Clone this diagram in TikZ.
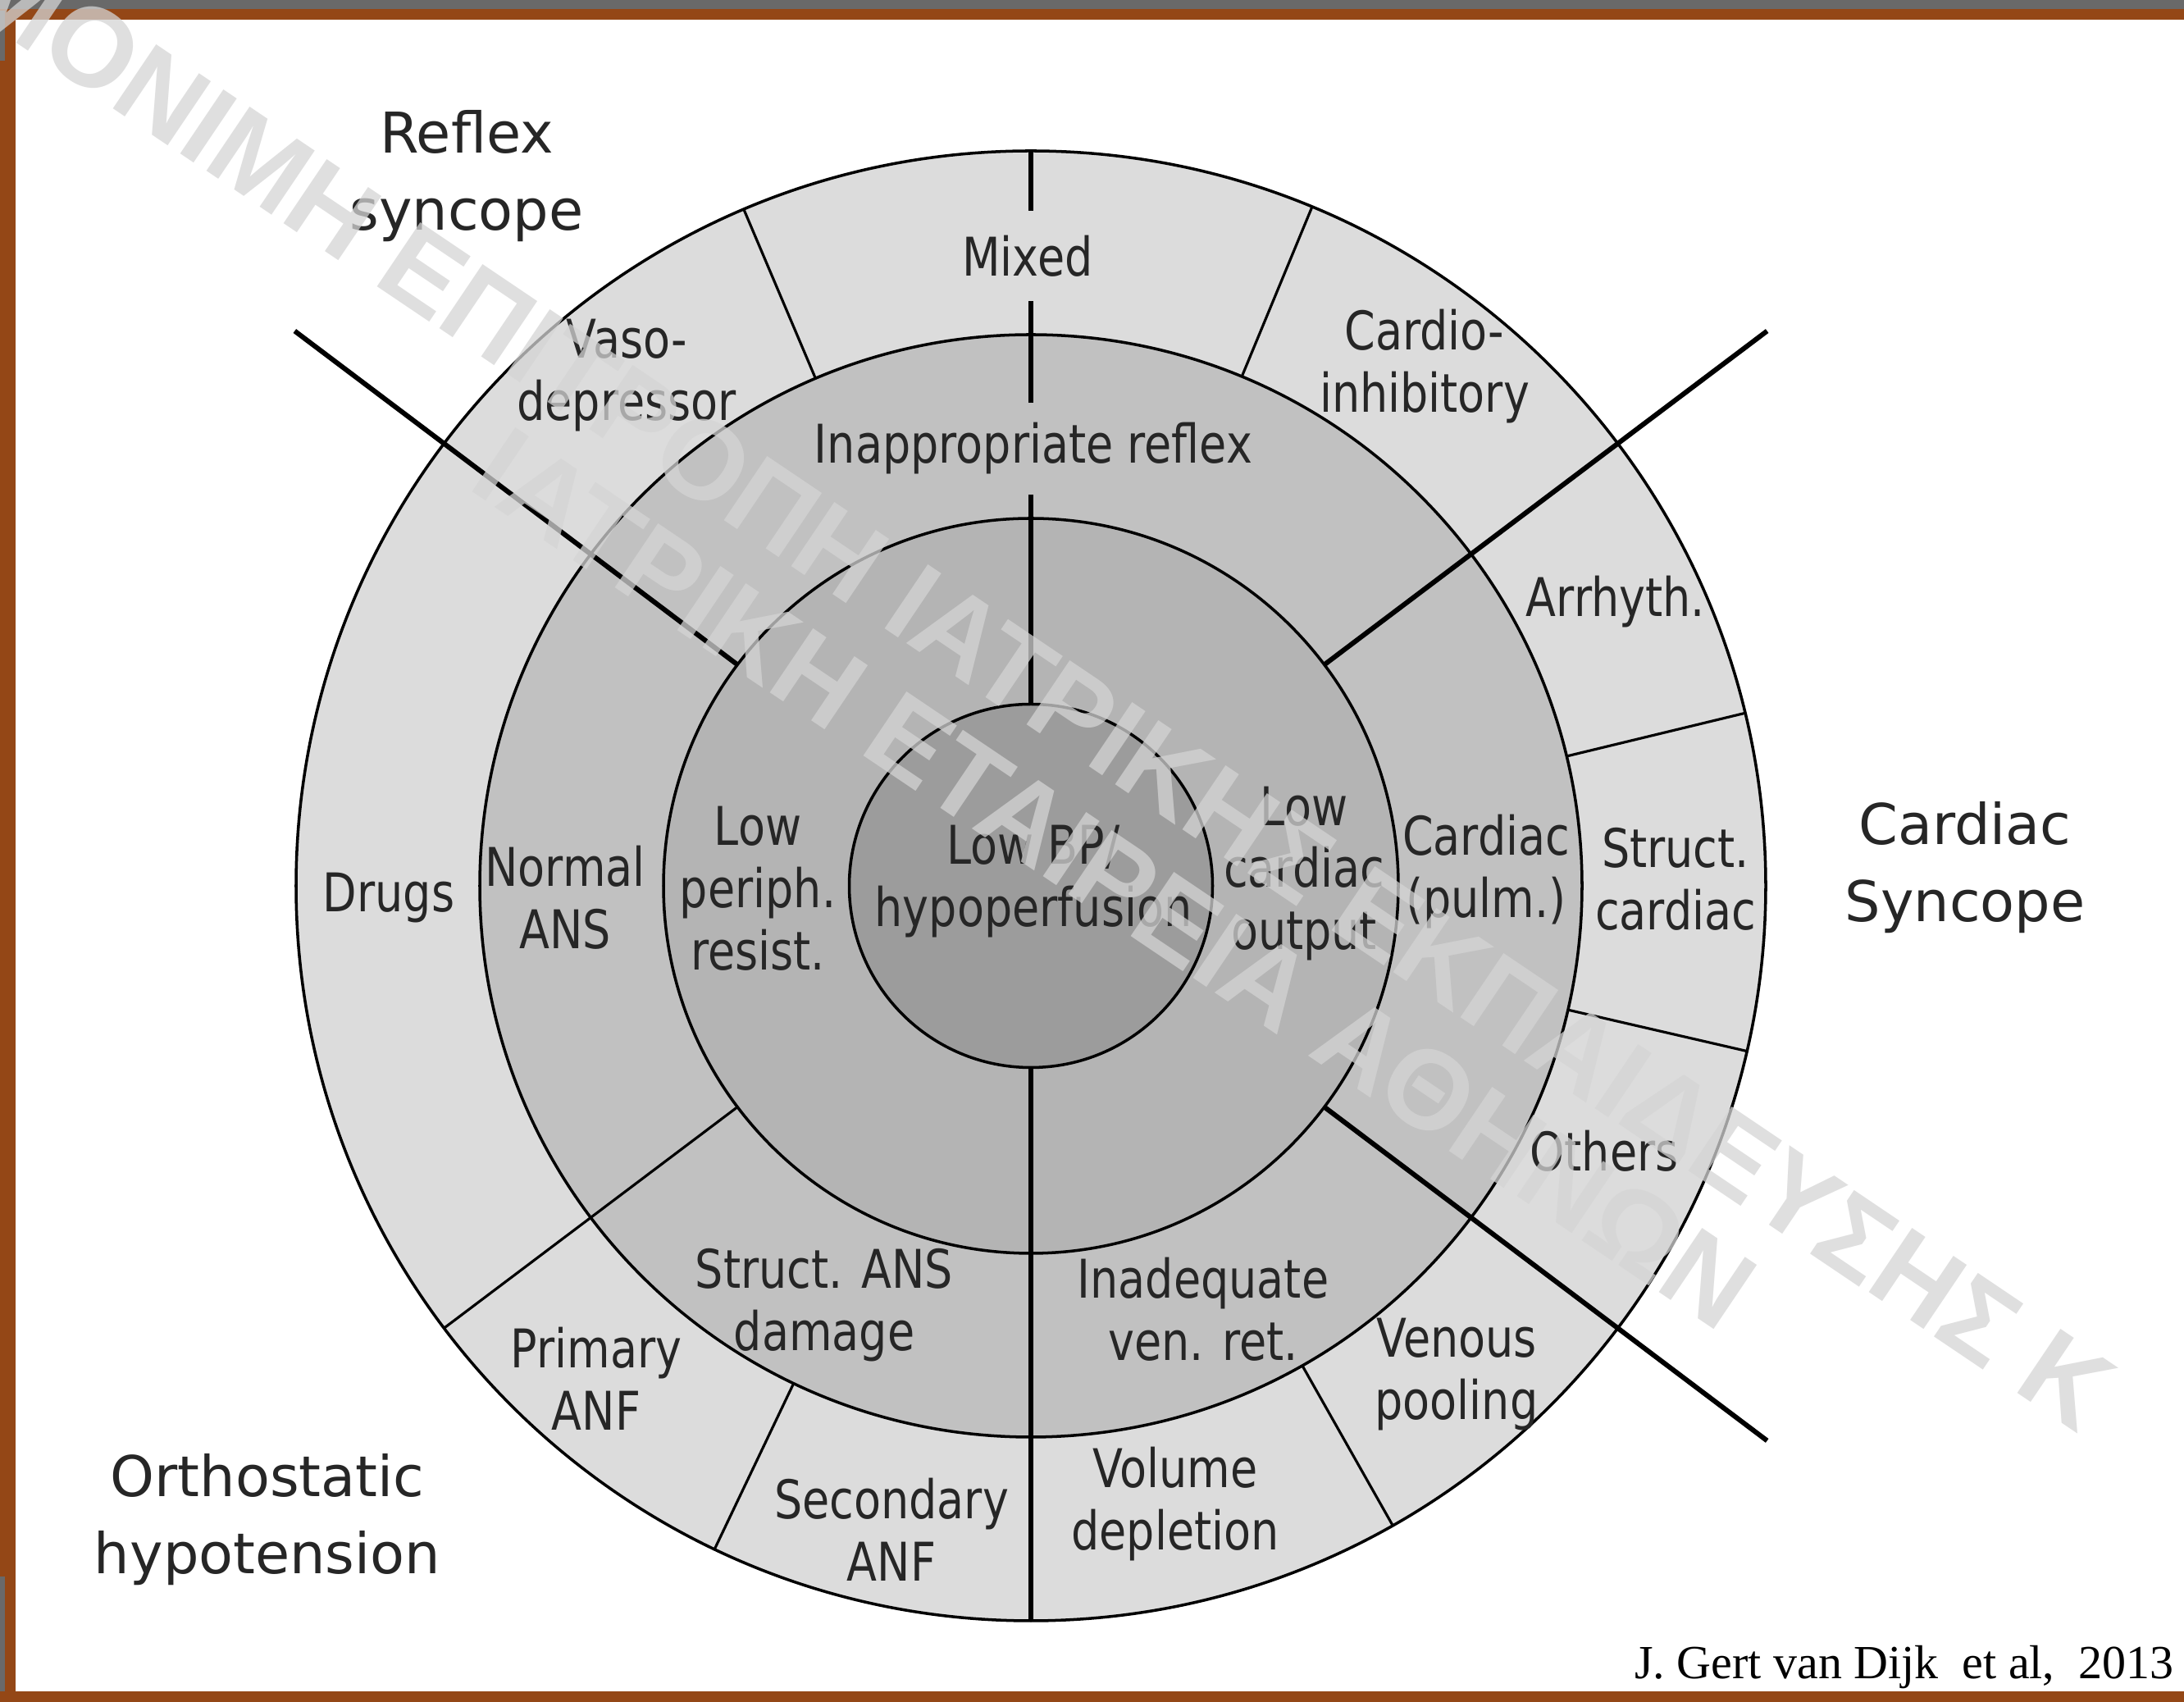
\documentclass[tikz,border=0pt]{standalone}
\usepackage{fontspec}
\setmainfont{DejaVu Sans}
\newfontfamily\narrowfont{DejaVu Sans}[FakeStretch=0.83]
\newfontfamily\citefont{Liberation Serif}
\newfontfamily\markfont{Liberation Sans}
\definecolor{frameband}{RGB}{148,71,22}
\definecolor{darkband}{RGB}{105,105,105}
\definecolor{ringA}{RGB}{220,220,220}
\definecolor{ringB}{RGB}{193,193,193}
\definecolor{ringC}{RGB}{180,180,180}
\definecolor{ringD}{RGB}{156,156,156}
\definecolor{markgray}{RGB}{212,212,212}
\begin{document}
\begin{tikzpicture}
  [every node/.style={inner sep=0pt,align=center,text=black!85},
   lbl/.style={font=\narrowfont\fontsize{18.5}{21.6}\selectfont},
   group/.style={font=\fontsize{19.5}{26.7}\selectfont},
   sep/.style={line width=0.9pt},
   axis/.style={line width=1.7pt},
   wmark/.style={font=\markfont\bfseries\fontsize{39}{39}\selectfont,
     text=markgray,text opacity=0.75,anchor=west,rotate=-34}]
  \useasboundingbox (0,0) rectangle (26.63,20.75);

  % frame of the slide
  \fill[darkband] (0,20.64) rectangle (26.63,20.75);
  \fill[frameband] (0,20.51) rectangle (26.63,20.64);
  \fill[frameband] (0,0) rectangle (0.19,20.64);
  \fill[frameband] (0,0) rectangle (26.63,0.13);
  \fill[darkband] (0,20.01) rectangle (0.06,20.62);
  \fill[darkband] (0,0.13) rectangle (0.06,1.53);

  \begin{scope}[shift={(12.57,9.95)}]
    % rings
    \filldraw[fill=ringA,line width=1pt] (0,0) circle (8.96);
    \filldraw[fill=ringB,line width=1pt] (0,0) circle (6.72);
    \filldraw[fill=ringC,line width=1pt] (0,0) circle (4.48);
    \filldraw[fill=ringD,line width=1pt] (0,0) circle (2.215);

    % sectors
    \foreach \a in {113,67.5,13.6,-13,-60.5,244.5}
      \draw[sep] (\a:6.72) -- (\a:8.96);
    \draw[sep] (217:4.48) -- (217:8.96);
    \foreach \a in {37,143,-37}
      \draw[axis] (\a:4.48) -- (\a:11.24);
    \draw[axis] (90:2.215) -- (90:8.96);
    \draw[axis] (-90:2.215) -- (-90:8.96);

    % centre and inner ring
    \node[lbl] (lowbp) at (0.03,0.05) {Low BP/\\hypoperfusion};
    \node[lbl] (lowco) at (3.33,0.15) {Low\\cardiac\\output};
    \node[lbl] (lowpr) at (-3.33,-0.03) {Low\\periph.\\resist.};

    % middle ring
    \node[lbl,fill=ringB,inner xsep=3pt,inner ysep=0.25cm] (inapp) at (0.03,5.33) {Inappropriate reflex};
    \node[lbl] (normans) at (-5.68,-0.14) {Normal\\ANS};
    \node[lbl] (cardpulm) at (5.55,0.17) {Cardiac\\(pulm.)};
    \node[lbl] (structans) at (-2.52,-5.11) {Struct. ANS\\damage};
    \node[lbl] (inadeq) at (2.10,-5.16) {Inadequate\\ven. ret.};

    % outer ring
    \node[lbl,fill=ringA,inner xsep=3pt,inner ysep=0.3cm] (mixed) at (-0.04,7.68) {Mixed};
    \node[lbl] (vaso) at (-4.93,6.22) {Vaso-\\depressor};
    \node[lbl] (cardioinh) at (4.80,6.33) {Cardio-\\inhibitory};
    \node[lbl] (arrh) at (7.13,3.46) {Arrhyth.};
    \node[lbl] (structcard) at (7.86,0.08) {Struct.\\cardiac};
    \node[lbl] (others) at (6.99,-3.23) {Others};
    \node[lbl] (venous) at (5.19,-5.96) {Venous\\pooling};
    \node[lbl] (volume) at (1.76,-7.54) {Volume\\depletion};
    \node[lbl] (secanf) at (-1.70,-7.85) {Secondary\\ANF};
    \node[lbl] (primanf) at (-5.30,-6.01) {Primary\\ANF};
    \node[lbl] (drugs) at (-7.83,-0.15) {Drugs};

    % groups
    \node[group] (reflex) at (-6.88,8.65) {Reflex\\syncope};
    \node[group] (cardiac) at (11.39,0.22) {Cardiac\\Syncope};
    \node[group] (ortho) at (-9.31,-7.73) {Orthostatic\\hypotension};
  \end{scope}

  \node[font=\citefont\fontsize{16.5}{20}\selectfont,text=black,anchor=base east]
    (cite) at (26.51,0.283) {J. Gert van Dijk\ \ et al,\ \ 2013};

  % watermark
  \begin{scope}
    \clip (0,0) rectangle (26.63,20.75);
    \node[wmark] (wmone) at (-0.267,21.107) {ΜΟΝΙΜΗ ΕΠΙΤΡΟΠΗ ΙΑΤΡΙΚΗΣ ΕΚΠΑΙΔΕΥΣΗΣ Κ};
    \node[wmark] (wmtwo) at (5.944,15.197) {ΙΑΤΡΙΚΗ ΕΤΑΙΡΕΙΑ ΑΘΗΝΩΝ};
  \end{scope}
\end{tikzpicture}
\end{document}
